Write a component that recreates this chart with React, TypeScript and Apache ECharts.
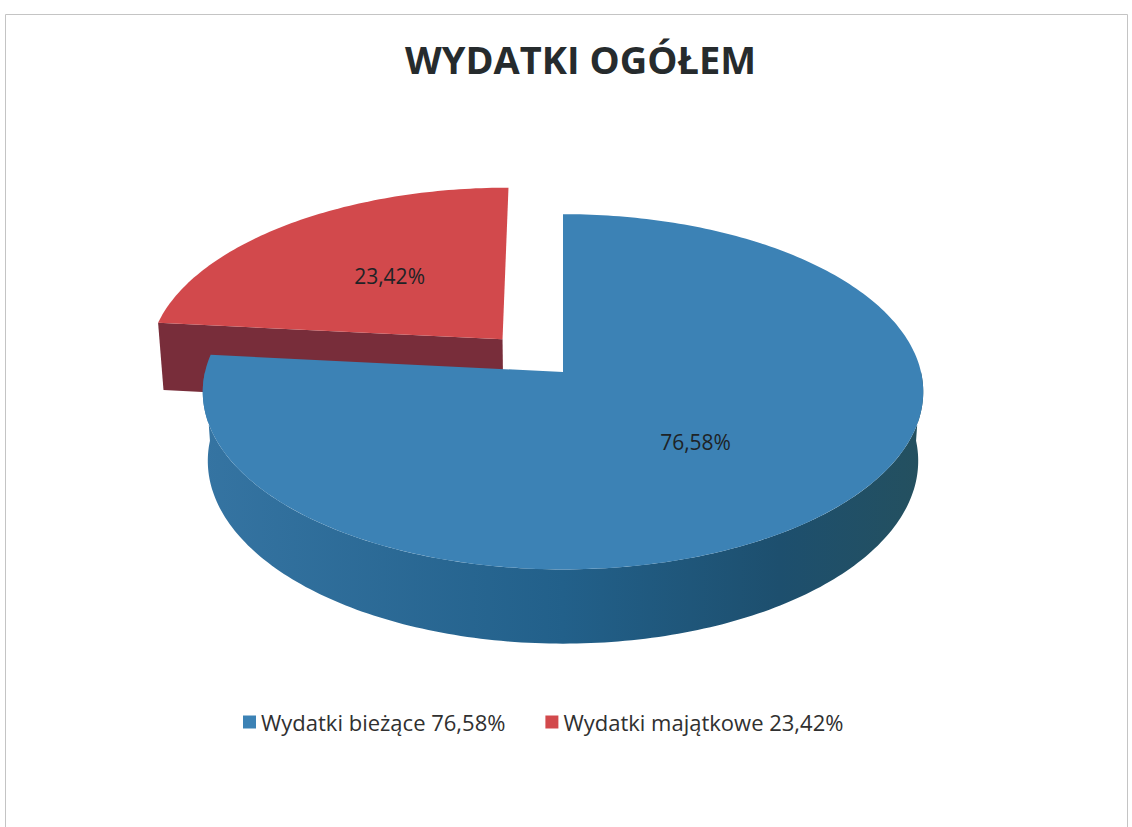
import React, { useEffect, useRef } from "react";
import * as echarts from "echarts";

// ---- data ----
const TITLE = "WYDATKI OGÓŁEM";
const categories = ["Wydatki bieżące", "Wydatki majątkowe"];
const shares = [76.58, 23.42];
const exploded = [false, true];

// ---- styles ----
const topColors = ["#3c82b5", "#d2494c"];
const sideStops = [
  [
    [0, "#3574a2"],
    [0.5, "#22608a"],
    [0.8, "#1d4f6e"],
    [1, "#24505f"],
  ],
  [
    [0, "#8a3340"],
    [1, "#6a2a35"],
  ],
];
const cutColors = ["#2a628a", "#782d3a"];

const fmt = (v: number) => v.toFixed(2).replace(".", ",") + "%";

// ---- pie geometry (3D projection) ----
const CX = 563;
const CY = 372;
const R = 358;
const H = 80;
const EXPLODE = 92;
const SIN_A = 0.49;
const COS_A = Math.sqrt(1 - SIN_A * SIN_A);
const DIST = 2800;
const DEG = Math.PI / 180;

function project(X: number, Y: number, Z: number): number[] {
  const w = -Y * SIN_A + Z * COS_A;
  const up = Y * COS_A + Z * SIN_A;
  const s = DIST / (DIST + w);
  return [CX + X * s, CY - up * s];
}

function arcPts(a0: number, a1: number, Y: number, ox: number, oz: number) {
  const pts: number[][] = [];
  const n = Math.max(2, Math.ceil((a1 - a0) / 1));
  for (let i = 0; i <= n; i++) {
    const t = (a0 + ((a1 - a0) * i) / n) * DEG;
    pts.push(project(ox + R * Math.sin(t), Y, oz + R * Math.cos(t)));
  }
  return pts;
}

function makeRenderItem(idx: number) {
  return (params: any, api: any) => {
    const total = shares.reduce((a, b) => a + b, 0);
    const before = shares.slice(0, idx).reduce((a, b) => a + b, 0);
    const value = api.value(0);
    const a0 = (before / total) * 360;
    const a1 = ((before + value) / total) * 360;
    const mid = ((a0 + a1) / 2) * DEG;
    const ox = exploded[idx] ? EXPLODE * Math.sin(mid) : 0;
    const oz = exploded[idx] ? EXPLODE * Math.cos(mid) : 0;
    const eye = [0, DIST * SIN_A, -DIST * COS_A];
    const children: any[] = [];

    // radial cut faces (only clearly front-facing ones)
    const faces = [
      { a: a0, sign: -1 },
      { a: a1, sign: 1 },
    ];
    faces.forEach((f) => {
      const t = f.a * DEG;
      const nx = f.sign * Math.cos(t);
      const nz = -f.sign * Math.sin(t);
      const px = ox + (R / 2) * Math.sin(t);
      const pz = oz + (R / 2) * Math.cos(t);
      const dot = nx * (eye[0] - px) + nz * (eye[2] - pz);
      if (dot > 200) {
        children.push({
          type: "polygon",
          shape: {
            points: [
              project(ox, 0, oz),
              project(ox + R * Math.sin(t), 0, oz + R * Math.cos(t)),
              project(ox + R * Math.sin(t), -H, oz + R * Math.cos(t)),
              project(ox, -H, oz),
            ],
          },
          style: { fill: cutColors[idx] },
        });
      }
    });

    // outer side (front half only)
    const lo = Math.max(a0, 90);
    const hi = Math.min(a1, 270);
    if (lo < hi) {
      const topArc = arcPts(lo, hi, 0, ox, oz);
      const botArc = arcPts(lo, hi, -H, ox, oz).reverse();
      children.push({
        type: "polygon",
        shape: { points: topArc.concat(botArc) },
        style: {
          fill: new echarts.graphic.LinearGradient(
            0,
            0,
            1,
            0,
            sideStops[idx].map((s) => ({ offset: s[0] as number, color: s[1] as string }))
          ),
        },
      });
    }

    // top face
    children.push({
      type: "polygon",
      shape: { points: [project(ox, 0, oz)].concat(arcPts(a0, a1, 0, ox, oz)) },
      style: { fill: topColors[idx] },
    });

    // label
    const lp = project(ox + 0.52 * R * Math.sin(mid), 0, oz + 0.52 * R * Math.cos(mid));
    children.push({
      type: "text",
      x: lp[0] + 2,
      y: lp[1] - 1,
      style: {
        text: fmt(value),
        fill: "#1e2326",
        fontSize: 21,
        fontFamily: "Open Sans",
        align: "center",
        verticalAlign: "middle",
      },
    });

    return { type: "group", children };
  };
}

export default function App() {
  const ref = useRef<HTMLDivElement>(null);
  useEffect(() => {
    if (!ref.current) return;
    const chart = echarts.init(ref.current, undefined, { renderer: "svg" });
    chart.setOption({
      animation: false,
      backgroundColor: "#ffffff",
      color: topColors,
      title: {
        text: TITLE,
        left: 400,
        top: 35,
        textStyle: {
          fontFamily: "Open Sans",
          fontWeight: "bold",
          fontSize: 38,
          color: "#262b2d",
        },
      },
      legend: {
        data: categories,
        left: 238,
        top: 706,
        icon: "rect",
        itemWidth: 13,
        itemHeight: 13,
        itemGap: 40,
        textStyle: { fontFamily: "Open Sans", fontSize: 22, color: "#303030" },
        formatter: (name: string) => `${name} ${fmt(shares[categories.indexOf(name)])}`,
      },
      graphic: [
        {
          type: "rect",
          shape: { x: 5.5, y: 14.5, width: 1122, height: 830 },
          style: { fill: "none", stroke: "#c4c4c4", lineWidth: 1 },
          silent: true,
        },
      ],
      series: categories.map((name, i) => ({
        type: "custom",
        name,
        coordinateSystem: "none",
        z: i === 0 ? 3 : 2,
        itemStyle: { color: topColors[i] },
        renderItem: makeRenderItem(i),
        data: [[shares[i]]],
      })),
    });
    return () => chart.dispose();
  }, []);
  return (
    <div
      ref={ref}
      style={{ position: "fixed", left: 0, top: 0, width: 1132, height: 827, background: "#fff" }}
    />
  );
}
